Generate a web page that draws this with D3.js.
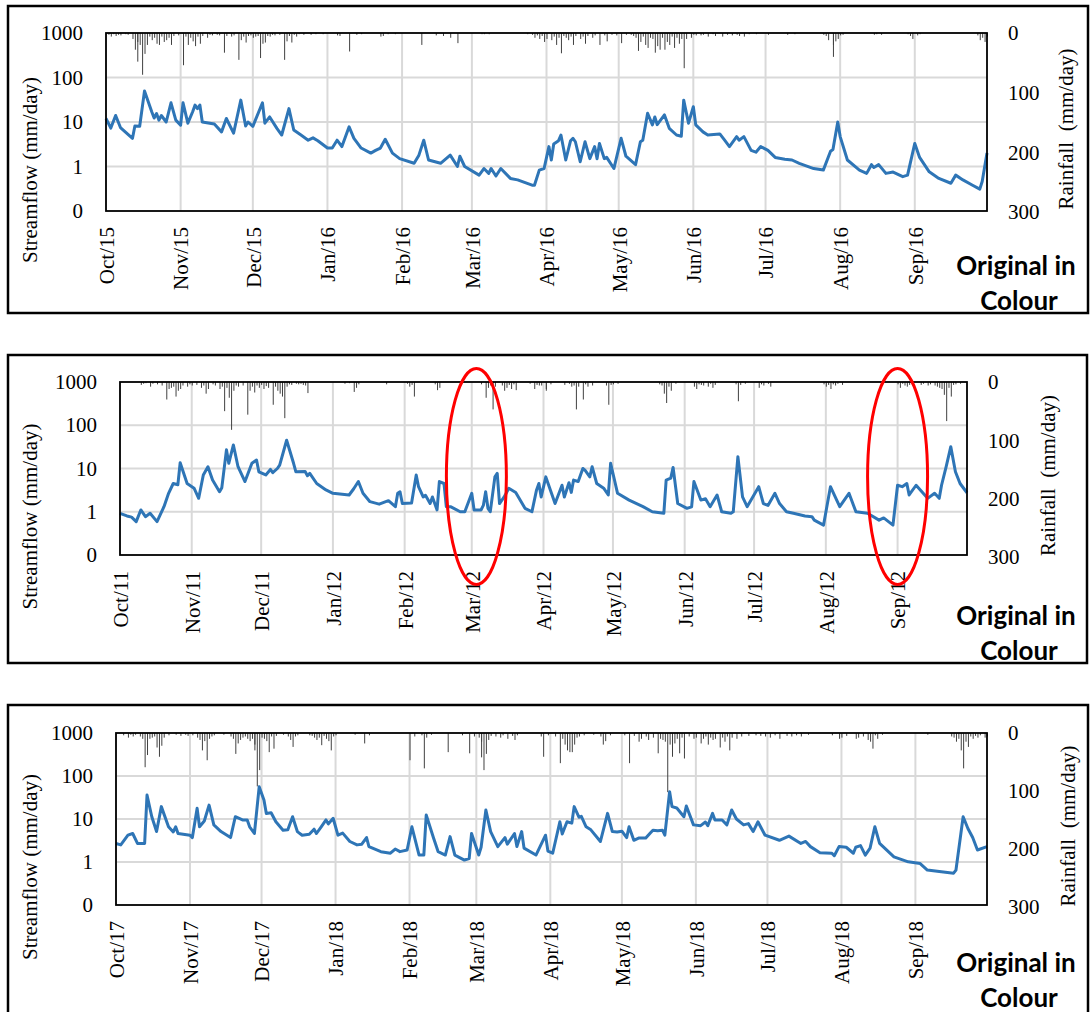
<!DOCTYPE html>
<html>
<head>
<meta charset="utf-8">
<script src="https://cdn.jsdelivr.net/npm/d3@7"></script>
<style>
  body { margin: 0; background: #fff; }
  svg { display: block; }
  text { font-family: "Liberation Serif", "Times New Roman", serif; fill: #000; }
  .note { font-family: Lato, "Open Sans", sans-serif; font-weight: 700; }
</style>
</head>
<body>
<svg id="chart" width="1092" height="1012"></svg>
<script>
// Streamflow (mm/day): [day since 1 Oct, value]
const flow2015 = [[0,12],[2,7.3],[4,14],[6,7.5],[11,4.3],[12,8.1],[14,8],[16,50],[19,17],[20,12.3],[21,15.5],[22,11],[23,14],[25,10],[27,27],[29,11],[31,8.5],[32,27],[34,9.4],[36,17],[37,24],[38,20],[39,24],[40,10],[45,9],[48,6],[50,12],[53,5.6],[56,31],[58,8.1],[59,10],[61,8],[65,27],[66,9.4],[68,13],[71,7.2],[73,5.1],[76,20],[78,6.6],[81,5.1],[84,3.9],[86,4.4],[88,3.8],[92,2.6],[94,2.6],[96,3.9],[98,2.8],[101,7.8],[103,4.3],[106,2.6],[110,2.0],[112,2.3],[114,2.6],[116,4.1],[119,2.0],[122,1.5],[128,1.18],[130,1.8],[132,3.9],[134,1.4],[139,1.18],[143,1.8],[146,1.0],[147,1.7],[149,1.0],[155,0.64],[157,0.9],[159,0.7],[160,0.9],[162,0.61],[164,0.9],[168,0.54],[171,0.5],[177,0.38],[178,0.38],[180,0.83],[182,0.9],[184,2.8],[185,1.4],[186,3.2],[188,3.8],[189,5.1],[191,1.4],[193,3.8],[194,4.3],[195,3.6],[197,1.28],[199,3.6],[201,1.5],[203,2.8],[204,1.5],[205,3.3],[207,1.5],[208,1.6],[211,0.9],[214,4.3],[216,1.7],[220,1.1],[222,3.6],[223,3.9],[225,15.7],[227,8.6],[228,13],[229,8.7],[232,14.4],[234,7.2],[237,5.1],[239,4.8],[240,31],[242,9.4],[244,22],[245,8.6],[248,6],[250,5.1],[255,5.4],[257,3.9],[259,2.8],[262,4.7],[263,3.9],[265,4.7],[268,2.3],[270,2.1],[272,2.8],[275,2.3],[278,1.6],[282,1.45],[285,1.4],[288,1.18],[294,0.9],[298,0.83],[301,2.2],[302,2.4],[304,10],[305,4.7],[308,1.4],[313,0.83],[316,0.7],[318,1.1],[319,0.95],[321,1.1],[324,0.7],[327,0.75],[331,0.59],[333,0.64],[336,3.3],[338,1.6],[342,0.76],[346,0.54],[351,0.42],[353,0.64],[356,0.5],[360,0.38],[363,0.31],[364,0.46],[366,2.0]];

const flow2011 = [[0,0.92],[3,0.8],[5,0.75],[7,0.59],[9,1.1],[11,0.77],[13,0.92],[16,0.59],[19,1.31],[21,2.67],[23,4.5],[25,4.2],[26,13.6],[29,4.5],[32,3.5],[34,2.05],[36,7.1],[38,11],[40,5.4],[43,2.9],[44,3.6],[46,27],[47,13.2],[49,35],[51,11],[54,5.0],[57,13.2],[59,15.7],[60,8.4],[63,7.1],[65,9.5],[66,8],[68,10],[69,12],[72,45],[75,13.2],[76,8.4],[80,8.5],[81,6.8],[82,7.7],[85,4.5],[89,3.2],[92,2.67],[99,2.44],[101,3.4],[103,5.0],[105,2.67],[108,1.71],[112,1.5],[116,1.8],[119,1.31],[120,2.67],[121,2.9],[122,1.55],[126,1.6],[128,7.1],[129,3.8],[131,2.2],[132,2.4],[134,1.55],[135,2.2],[137,1.1],[138,5.0],[140,4.5],[141,1.31],[143,1.3],[147,1.0],[149,1.0],[152,2.67],[153,1.1],[156,1.1],[157,1.4],[158,2.9],[159,1.2],[160,1.0],[162,6.4],[163,7.7],[164,1.55],[166,2.2],[168,3.5],[171,2.8],[175,1.2],[178,1.0],[180,3.2],[181,4.5],[182,2.2],[184,6.4],[188,1.55],[191,4.1],[192,2.2],[194,4.7],[195,2.8],[196,5.4],[198,5.0],[200,10],[201,9],[203,6.4],[204,11],[206,4.5],[209,3.5],[211,2.44],[212,13.2],[215,2.67],[220,1.86],[226,1.31],[230,1.0],[235,0.92],[236,5.4],[238,6],[239,10.6],[241,1.55],[245,1.2],[247,1.3],[248,5.0],[251,1.86],[253,2.0],[255,1.31],[258,2.44],[260,1.0],[264,0.92],[265,1.0],[267,18.8],[269,2.2],[271,1.31],[276,3.8],[278,1.55],[280,1.4],[283,2.67],[285,1.55],[288,1.0],[291,0.92],[296,0.8],[299,0.77],[300,0.64],[304,0.49],[307,3.8],[311,1.31],[315,2.67],[318,1.0],[323,0.92],[328,0.64],[330,0.72],[334,0.49],[336,4.1],[338,3.8],[340,4.5],[341,2.44],[344,4.1],[349,2.04],[352,2.67],[354,2.04],[355,4.1],[357,11],[359,32],[361,8.4],[363,4.5],[366,2.75]];

const flow2017 = [[0,2.7],[2,2.5],[5,4.2],[7,4.6],[9,2.7],[12,2.7],[13,36],[15,11.3],[17,5.1],[19,19.4],[22,6.6],[24,5],[25,6.6],[26,4.6],[31,4.2],[32,3.7],[34,17.7],[35,6.6],[37,9],[39,21],[41,7.3],[44,5.1],[48,3.7],[50,11.3],[53,9.5],[55,9.5],[56,6.6],[58,4.6],[60,56],[62,27.7],[63,13.5],[65,14],[67,8.6],[70,5.5],[72,5.6],[74,11.3],[76,5.1],[78,4.2],[81,4.4],[83,5.8],[84,4.6],[86,6.6],[88,9.5],[89,7.7],[91,10.4],[93,4.2],[95,4.7],[98,3.0],[101,2.5],[103,2.6],[105,3.7],[106,2.28],[111,1.74],[115,1.6],[117,2.0],[119,1.74],[122,1.9],[124,6.6],[127,1.45],[129,1.45],[130,12.4],[133,3.7],[135,1.74],[138,1.45],[140,3.9],[142,1.45],[146,1.11],[148,1.2],[149,4.6],[152,1.45],[153,2.2],[155,16.2],[157,5.1],[160,2.28],[163,3.7],[164,2.6],[167,4.6],[168,2.3],[170,5.1],[171,2.1],[176,1.45],[180,4.2],[181,1.8],[183,1.6],[186,8.6],[187,4.5],[189,8.6],[191,8],[192,19.4],[194,11],[195,11.5],[197,6.6],[199,5.6],[203,3.0],[206,13.5],[208,5.1],[210,5],[212,5.2],[214,3.7],[215,6.6],[217,3.2],[219,3.6],[222,3.6],[224,4.8],[225,5.5],[227,5.3],[229,5.5],[230,4.2],[232,43],[233,19.4],[235,18],[238,11.3],[239,20],[242,7.3],[245,7],[247,8.5],[248,7],[250,13.5],[251,9.5],[254,9.5],[256,7.3],[258,16.2],[260,10],[263,7.3],[265,7.8],[267,5.1],[269,8.6],[272,4.2],[278,3.2],[282,4.0],[287,2.7],[289,3.0],[291,2.28],[295,1.65],[300,1.6],[301,1.4],[303,2.28],[306,2.2],[309,1.6],[310,2.2],[312,2.4],[314,1.45],[316,2.1],[318,6.6],[320,2.7],[326,1.32],[332,1.01],[337,0.92],[340,0.65],[345,0.6],[351,0.55],[352,0.65],[355,11.3],[357,6.0],[359,3.7],[361,1.9],[365,2.28]];

// Rainfall (mm/day): [day since 1 Oct, value]
const rain2015 = [[1,3],[2,6],[3,2],[4,5],[5,3],[6,4],[8,2],[9,3],[11,10],[12,28],[13,15],[13,48],[14,20],[15,70],[16,35],[17,20],[18,6],[19,12],[20,8],[21,18],[22,20],[23,6],[24,15],[25,12],[26,8],[27,20],[28,5],[30,4],[32,54],[33,6],[34,20],[35,8],[36,14],[37,22],[38,6],[39,18],[40,5],[42,8],[43,3],[44,4],[46,3],[47,4],[49,33],[50,5],[52,6],[53,4],[55,45],[56,12],[57,6],[58,16],[59,5],[60,4],[61,8],[62,6],[63,5],[64,42],[65,18],[66,16],[67,5],[68,6],[69,3],[70,4],[72,3],[74,45],[75,14],[76,5],[77,16],[78,3],[79,6],[80,2],[82,3],[85,3],[87,2],[90,2],[96,4],[97,5],[101,31],[104,3],[106,2],[114,6],[115,5],[117,2],[120,2],[131,20],[137,4],[140,5],[143,8],[146,17],[156,2],[157,2],[159,2],[175,2],[177,3],[178,8],[179,4],[180,10],[181,5],[182,15],[183,10],[185,12],[186,6],[187,20],[188,8],[189,34],[190,5],[191,8],[192,12],[193,6],[194,20],[195,5],[197,10],[198,6],[199,18],[200,5],[202,8],[203,4],[205,20],[207,4],[208,14],[210,3],[212,4],[214,17],[216,3],[218,3],[219,5],[220,8],[221,30],[222,15],[223,6],[224,20],[225,25],[226,8],[227,10],[228,33],[229,22],[230,28],[231,8],[232,28],[233,15],[234,20],[235,6],[236,25],[237,8],[238,18],[239,10],[240,59],[241,10],[243,8],[244,3],[245,4],[247,4],[248,3],[250,6],[252,2],[253,5],[256,6],[258,3],[260,4],[262,3],[263,5],[265,6],[267,2],[270,2],[275,3],[283,3],[286,2],[298,3],[299,5],[300,12],[302,20],[302,40],[303,14],[304,10],[305,4],[306,3],[319,3],[320,2],[322,3],[333,2],[334,5],[335,10],[337,4],[338,2],[362,4],[363,12],[364,8],[365,15],[366,6]];

const rain2011 = [[9,5],[10,3],[11,2],[13,8],[14,3],[16,4],[18,6],[20,30],[21,12],[22,10],[23,8],[24,25],[25,15],[26,12],[27,6],[29,8],[30,4],[31,6],[33,5],[35,10],[36,6],[37,20],[38,12],[40,4],[41,6],[43,12],[44,8],[45,50],[46,10],[47,27],[48,82],[49,15],[50,6],[51,8],[53,6],[55,56],[56,15],[57,8],[58,18],[59,6],[60,10],[61,5],[62,12],[63,7],[64,10],[66,39],[67,8],[68,15],[69,20],[70,25],[71,62],[72,8],[73,4],[74,5],[76,3],[77,4],[78,3],[79,5],[80,6],[81,19],[97,3],[99,2],[101,17],[102,10],[103,4],[115,4],[124,3],[125,8],[126,5],[127,25],[136,4],[137,14],[138,10],[147,3],[156,4],[158,27],[159,10],[160,6],[161,47],[162,8],[165,6],[166,15],[167,10],[168,5],[169,12],[170,4],[171,14],[177,3],[179,12],[180,5],[181,6],[182,6],[184,15],[184,12],[186,4],[192,5],[194,3],[195,8],[196,6],[197,47],[198,8],[200,30],[201,4],[202,8],[204,6],[210,6],[211,39],[212,5],[213,4],[215,3],[233,4],[234,6],[235,20],[236,36],[237,8],[238,15],[240,3],[248,8],[249,12],[250,4],[251,5],[252,6],[254,8],[255,3],[256,10],[257,5],[266,4],[267,33],[268,5],[270,3],[276,10],[277,4],[278,6],[280,3],[281,8],[304,4],[305,8],[306,5],[307,12],[308,4],[309,6],[310,3],[312,5],[336,4],[337,10],[338,3],[339,6],[340,8],[341,5],[346,5],[347,3],[349,6],[350,4],[352,6],[353,8],[354,10],[355,12],[356,22],[357,67],[358,10],[359,25],[360,5],[361,4],[363,3]];

const rain2017 = [[3,4],[5,8],[6,3],[7,6],[8,3],[10,6],[11,10],[12,59],[13,38],[14,10],[15,8],[16,6],[17,25],[18,41],[19,22],[20,8],[22,4],[25,3],[27,5],[29,3],[30,5],[32,4],[34,8],[35,12],[36,30],[37,14],[38,47],[39,10],[40,6],[41,4],[45,3],[48,6],[49,10],[50,36],[51,18],[52,12],[53,8],[54,6],[55,10],[56,14],[57,10],[58,30],[58,20],[59,92],[60,64],[61,8],[62,10],[63,14],[64,33],[65,6],[66,27],[67,5],[70,3],[72,6],[73,12],[74,24],[75,6],[76,4],[81,4],[82,5],[83,8],[84,12],[85,8],[86,21],[87,5],[88,10],[89,14],[90,30],[91,6],[92,4],[100,3],[104,18],[106,4],[123,47],[125,6],[128,4],[129,61],[130,8],[132,3],[139,33],[145,4],[148,35],[150,6],[152,8],[153,15],[153,42],[154,64],[155,36],[156,12],[157,5],[159,6],[161,8],[162,4],[164,10],[166,5],[167,12],[168,4],[178,6],[179,41],[181,4],[184,6],[186,52],[187,10],[188,20],[189,30],[190,33],[191,33],[192,20],[193,8],[194,6],[196,4],[200,3],[203,6],[204,20],[205,14],[207,4],[213,4],[215,52],[217,5],[219,15],[220,10],[222,6],[223,12],[225,8],[227,35],[228,10],[229,12],[230,15],[231,102],[232,20],[233,41],[234,18],[235,10],[236,35],[237,8],[238,44],[240,6],[242,10],[243,8],[245,18],[246,10],[247,6],[248,20],[249,8],[250,12],[251,10],[253,25],[254,8],[255,15],[256,6],[257,30],[258,8],[260,10],[262,6],[265,5],[268,4],[270,5],[272,6],[274,8],[276,4],[278,10],[281,5],[283,6],[285,4],[287,6],[290,3],[300,4],[303,10],[304,8],[306,5],[310,10],[311,8],[313,6],[315,12],[316,15],[317,27],[318,4],[319,10],[321,3],[340,3],[350,6],[351,8],[352,15],[353,10],[354,30],[355,61],[356,15],[357,24],[358,6],[359,10],[360,5],[361,8],[362,4],[364,8],[365,6]];

// axis ticks
const flowTicks = [0.1, 1, 10, 100, 1000];
const flowTickLabels = ["0", "1", "10", "100", "1000"];
const rainTicks = [0, 100, 200, 300];

const panels = [
  { start: new Date(2015, 9, 1), flow: flow2015, rain: rain2015,
    box: [8, 6, 1080, 307], left: 106, right: 987, top: 33, bottom: 211, rainBottom: 212,
    rainLabelX: 1008, rainTitleX: 1066, noteY: 275 },
  { start: new Date(2011, 9, 1), flow: flow2011, rain: rain2011,
    box: [8, 355, 1079, 308], left: 120, right: 967, top: 382, bottom: 555, rainBottom: 557,
    rainLabelX: 988, rainTitleX: 1048, noteY: 625,
    circles: [new Date(2012, 2, 3), new Date(2012, 8, 1)] },
  { start: new Date(2017, 9, 1), flow: flow2017, rain: rain2017,
    box: [8, 705, 1080, 330], left: 116, right: 987, top: 733, bottom: 905, rainBottom: 907,
    rainLabelX: 1008, rainTitleX: 1068, noteY: 972 }
];

const svg = d3.select("#chart");
const monthFmt = d3.timeFormat("%b/%y");

panels.forEach(drawPanel);

function drawPanel(p) {
  const g = svg.append("g");
  const end = d3.timeYear.offset(p.start, 1);
  const dayDate = d => d3.timeDay.offset(p.start, d);

  const x = d3.scaleTime().domain([p.start, end]).range([p.left, p.right]);
  const y = d3.scaleLog().domain([0.1, 1000]).range([p.bottom, p.top]);
  const yRain = d3.scaleLinear().domain([0, 300]).range([p.top, p.rainBottom]);
  const months = d3.timeMonth.range(p.start, end);

  // Rahmen um das Panel
  g.append("rect")
    .attr("x", p.box[0]).attr("y", p.box[1])
    .attr("width", p.box[2]).attr("height", p.box[3])
    .attr("fill", "none").attr("stroke", "#000").attr("stroke-width", 2.5);

  // Gitterlinien
  g.append("g").selectAll("line").data(months).join("line")
    .attr("x1", d => x(d)).attr("x2", d => x(d))
    .attr("y1", p.top).attr("y2", p.bottom)
    .attr("stroke", "#d9d9d9").attr("stroke-width", 2);
  g.append("g").selectAll("line").data(flowTicks.slice(1, -1)).join("line")
    .attr("x1", p.left).attr("x2", p.right)
    .attr("y1", d => y(d)).attr("y2", d => y(d))
    .attr("stroke", "#d9d9d9").attr("stroke-width", 2);

  // Niederschlag (hängt von oben)
  g.append("g").selectAll("line").data(p.rain).join("line")
    .attr("x1", d => x(dayDate(d[0])) + 0.5).attr("x2", d => x(dayDate(d[0])) + 0.5)
    .attr("y1", p.top).attr("y2", d => yRain(d[1]))
    .attr("stroke", "#404040").attr("stroke-width", 1);

  // Abfluss
  const line = d3.line()
    .x(d => x(dayDate(d[0])))
    .y(d => y(d[1]));
  g.append("path").datum(p.flow)
    .attr("d", line)
    .attr("fill", "none").attr("stroke", "#2E75B6")
    .attr("stroke-width", 3).attr("stroke-linejoin", "round");

  // Plotrahmen
  g.append("rect")
    .attr("x", p.left).attr("y", p.top)
    .attr("width", p.right - p.left).attr("height", p.bottom - p.top)
    .attr("fill", "none").attr("stroke", "#000").attr("stroke-width", 1.8);

  // linke Achse
  const yAxis = g.append("g")
    .attr("transform", `translate(${p.left},0)`)
    .call(d3.axisLeft(y).tickValues(flowTicks)
      .tickFormat((d, i) => flowTickLabels[i]).tickSize(0).tickPadding(23));
  yAxis.select(".domain").remove();
  yAxis.selectAll("text").style("font-size", "21px").style("font-family", "Liberation Serif");

  // rechte Achse
  const rAxis = g.append("g")
    .attr("transform", `translate(${p.right},0)`)
    .call(d3.axisRight(yRain).tickValues(rainTicks).tickSize(0)
      .tickPadding(p.rainLabelX - p.right));
  rAxis.select(".domain").remove();
  rAxis.selectAll("text").style("font-size", "21px").style("font-family", "Liberation Serif");

  // x-Achse, Beschriftung gedreht
  const xAxis = g.append("g")
    .attr("transform", `translate(0,${p.bottom})`)
    .call(d3.axisBottom(x).tickValues(months).tickFormat(monthFmt).tickSize(0));
  xAxis.select(".domain").remove();
  xAxis.selectAll("text")
    .attr("transform", "rotate(-90)")
    .attr("text-anchor", "end")
    .attr("x", -16).attr("y", 0).attr("dy", "0.35em")
    .style("font-size", "21px").style("font-family", "Liberation Serif");

  // Achsentitel
  const midY = (p.top + p.bottom) / 2;
  g.append("text")
    .attr("transform", `translate(30,${midY + 48}) rotate(-90)`)
    .attr("text-anchor", "middle").attr("dy", "0.35em")
    .style("font-size", "21px")
    .text("Streamflow (mm/day)");
  g.append("text")
    .attr("transform", `translate(${p.rainTitleX},${midY + 7}) rotate(-90)`)
    .attr("text-anchor", "middle").attr("dy", "0.35em")
    .style("font-size", "21px").style("white-space", "pre")
    .text("Rainfall  (mm/day)");

  // Hinweis
  const note = g.append("text").attr("class", "note")
    .attr("text-anchor", "middle").style("font-size", "26px");
  note.append("tspan").attr("x", 1016).attr("y", p.noteY).text("Original in");
  note.append("tspan").attr("x", 1019).attr("y", p.noteY + 35).text("Colour");

  // rote Markierungen
  if (p.circles) {
    g.append("g").selectAll("ellipse").data(p.circles).join("ellipse")
      .attr("cx", d => x(d)).attr("cy", midY + 8)
      .attr("rx", 30).attr("ry", 108)
      .attr("fill", "none").attr("stroke", "#ff0000").attr("stroke-width", 3);
  }
}
</script>
</body>
</html>
